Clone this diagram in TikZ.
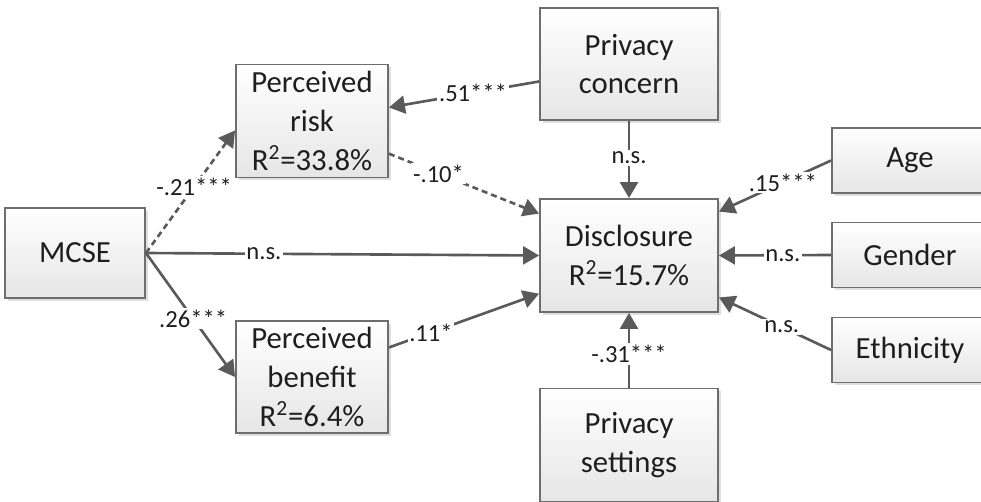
\documentclass[tikz,border=0pt]{standalone}
\usepackage{fontspec}
\setmainfont{Carlito}
\usetikzlibrary{arrows.meta,shadows}

\definecolor{linegray}{HTML}{5A5A5A}
\definecolor{boxedge}{HTML}{6E6E6E}
\definecolor{boxbottom}{HTML}{E6E6E6}
\definecolor{textdark}{HTML}{1E1E1E}

\begin{document}
\begin{tikzpicture}[x=0.02cm, y=-0.02cm,
    box/.style={draw=boxedge, line width=1.1pt, top color=white, bottom color=boxbottom,
        text=textdark, align=center, inner sep=0pt,
        font=\fontsize{17.5}{22}\selectfont,
        drop shadow={shadow xshift=1.5pt, shadow yshift=-1.5pt, opacity=0.25}},
    link/.style={draw=linegray, line width=1.5pt, -{Triangle[length=0.32cm, width=0.36cm]}},
    dashlink/.style={link, dash pattern=on 0.12cm off 0.08cm},
    coef/.style={fill=white, inner sep=1pt, text=textdark, font=\fontsize{14}{16}\selectfont}]

    % --- frame ---
    \useasboundingbox (0,0) rectangle (981,501);
    \clip (0,0) rectangle (981,501);

    % --- boxes ---
    \node[box, minimum width=2.8cm, minimum height=1.8cm] (mcse) at (75,253) {MCSE};
    \node[box, minimum width=3.04cm, minimum height=2.26cm] (risk) at (312,121)
        {Perceived\\risk\\R\textsuperscript{2}=33.8\%};
    \node[box, minimum width=3.04cm, minimum height=2.24cm] (benefit) at (312,377)
        {Perceived\\benefit\\R\textsuperscript{2}=6.4\%};
    \node[box, minimum width=3.56cm, minimum height=2.24cm] (concern) at (629,64)
        {Privacy\\concern};
    \node[box, minimum width=3.56cm, minimum height=2.26cm] (disc) at (629,255.5)
        {Disclosure\\R\textsuperscript{2}=15.7\%};
    \node[box, minimum width=3.56cm, minimum height=2.26cm] (settings) at (629,445)
        {Privacy\\settings};

    % controls on the right
    \foreach \name/\txt/\ypos in {age/Age/160.5, gender/Gender/255, eth/Ethnicity/350} {
        \node[box, minimum width=3.12cm, minimum height=1.3cm] (\name) at (910,\ypos) {\txt};
    }

    % --- paths ---
    \draw[dashlink] (mcse.east) -- node[coef, pos=0.54] {-.21***} (risk.187);
    \draw[link] (mcse.east) -- node[coef, pos=0.30] {n.s.} (disc.west);
    \draw[link] (mcse.east) -- node[coef, pos=0.53] {.26***} (benefit.west);
    \draw[link] (concern.191) -- node[coef, pos=0.44] {.51***} (risk.10);
    \draw[dashlink] (risk.337) -- node[coef, pos=0.33] {-.10*} (disc.155);
    \draw[link] (benefit.21) -- node[coef, pos=0.28] {.11*} (disc.203);
    \draw[link] (concern.south) -- node[coef, pos=0.48] {n.s.} (disc.north);
    \draw[link] (settings.north) -- node[coef, pos=0.45] {-.31***} (disc.south);
    \draw[link] (age.west) -- node[coef, pos=0.43] {.15***} (disc.26);
    \draw[link] (gender.west) -- node[coef, pos=0.43] {n.s.} (disc.east);
    \draw[link] (eth.west) -- node[coef, pos=0.44] {n.s.} (disc.335);

\end{tikzpicture}
\end{document}
